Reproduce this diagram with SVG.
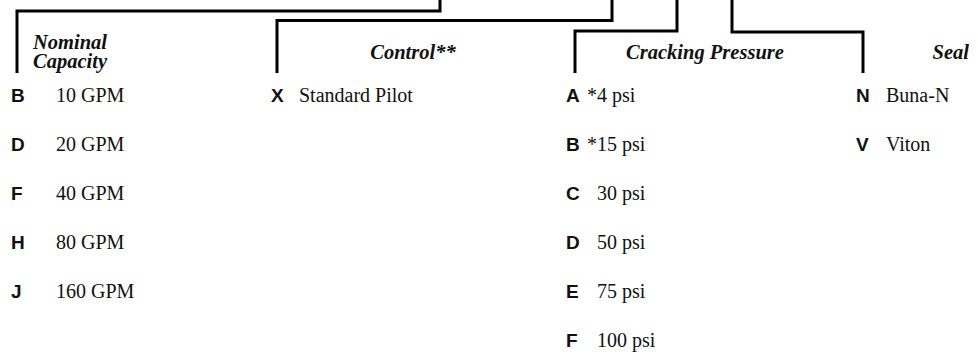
<svg xmlns="http://www.w3.org/2000/svg" width="978" height="360" viewBox="0 0 978 360">
<style>
.ln{fill:none;stroke:#000;stroke-width:3;stroke-linejoin:miter}
.hd{font-family:"Liberation Serif",serif;font-weight:bold;font-style:italic;font-size:20.5px;fill:#111}
.k{font-family:"Liberation Sans",sans-serif;font-weight:bold;font-size:19px;fill:#111}
.v{font-family:"Liberation Serif",serif;font-size:20px;fill:#111}
</style>
<rect width="978" height="360" fill="#fff"/>
<g id="connectors">
<path class="ln" d="M440,0 V11 H17 V73"/>
<path class="ln" d="M612,0 V20.5 H277 V73"/>
<path class="ln" d="M677,0 V31 H575 V73"/>
<path class="ln" d="M732,0 V32 H863 V73"/>
</g>
<g id="nominal-capacity">
<text class="hd" x="33" y="49">Nominal<tspan x="33" y="68">Capacity</tspan></text>
<text class="k" x="11" y="102">B</text><text class="v" x="56" y="102">10 GPM</text>
<text class="k" x="11" y="151">D</text><text class="v" x="56" y="151">20 GPM</text>
<text class="k" x="11" y="200">F</text><text class="v" x="56" y="200">40 GPM</text>
<text class="k" x="11" y="249">H</text><text class="v" x="56" y="249">80 GPM</text>
<text class="k" x="11" y="298">J</text><text class="v" x="56" y="298">160 GPM</text>
</g>
<g id="control">
<text class="hd" x="413" y="59" text-anchor="middle">Control**</text>
<text class="k" x="271" y="102">X</text><text class="v" x="299" y="102">Standard Pilot</text>
</g>
<g id="cracking-pressure">
<text class="hd" x="705" y="59" text-anchor="middle">Cracking Pressure</text>
<text class="k" x="566" y="102">A</text><text class="v" x="587" y="102">*4 psi</text>
<text class="k" x="566" y="151">B</text><text class="v" x="587" y="151">*15 psi</text>
<text class="k" x="566" y="200">C</text><text class="v" x="597" y="200">30 psi</text>
<text class="k" x="566" y="249">D</text><text class="v" x="597" y="249">50 psi</text>
<text class="k" x="566" y="298">E</text><text class="v" x="597" y="298">75 psi</text>
<text class="k" x="566" y="347">F</text><text class="v" x="597" y="347">100 psi</text>
</g>
<g id="seal">
<text class="hd" x="969" y="59" text-anchor="end">Seal</text>
<text class="k" x="856" y="102">N</text><text class="v" x="886" y="102">Buna-N</text>
<text class="k" x="856" y="151">V</text><text class="v" x="886" y="151">Viton</text>
</g>
</svg>
